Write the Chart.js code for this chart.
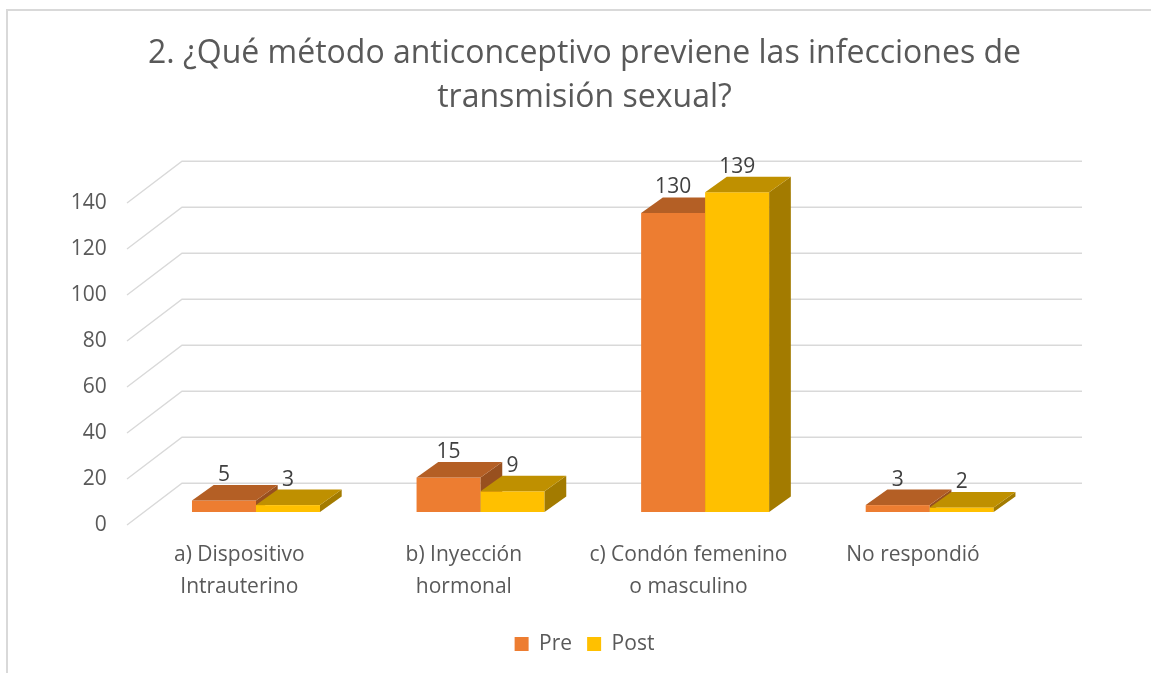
<!DOCTYPE html>
<html>
<head>
<meta charset="utf-8">
<script src="https://cdn.jsdelivr.net/npm/chart.js@4.4.1/dist/chart.umd.min.js"></script>
<style>
  html, body { margin: 0; padding: 0; background: #fff; overflow: hidden; }
  #frame { position: absolute; left: 6px; top: 9px; width: 1200px; height: 800px; border: 2px solid #d9d9d9; }
  #myChart { position: absolute; left: 0; top: 0; }
</style>
</head>
<body>
<div id="frame"></div>
<canvas id="myChart" width="1151" height="673"></canvas>
<script>
// Datos
const categorias = [
    ['a) Dispositivo', 'Intrauterino'],
    ['b) Inyección', 'hormonal'],
    ['c) Condón femenino', 'o masculino'],
    'No respondió'
];
const pre = [5, 15, 130, 3];
const post = [3, 9, 139, 2];
const ticksY = [0, 20, 40, 60, 80, 100, 120, 140];

const gris = '#595959';
const fuente = '"Open Sans", Lato, sans-serif';

// profundidad de las barras 3D
const DX = 21.7, DY = -15.5;

// colores: frente, arriba, lado
const tonos = [
    { front: '#ED7D31', top: '#B45F25', side: '#98501F' },
    { front: '#FFC000', top: '#BF9000', side: '#A37B00' }
];

// cuadrícula en perspectiva + barras 3D dibujadas a mano
const barras3D = {
    id: 'barras3D',
    beforeDatasetsDraw(chart) {
        const ctx = chart.ctx;
        const ca = chart.chartArea;
        const y = chart.scales.y;
        ctx.save();
        ctx.strokeStyle = '#d9d9d9';
        ctx.lineWidth = 1.4;
        ticksY.forEach(v => {
            const py = y.getPixelForValue(v);
            ctx.beginPath();
            ctx.moveTo(ca.left - 16.7, py + 13);
            ctx.lineTo(ca.left + 38.3, py - 28.7);
            ctx.lineTo(ca.right + 40, py - 28.7);
            ctx.stroke();
        });
        ctx.restore();
    },
    // el dibujo normal se cancela, se hace todo abajo en orden
    beforeDatasetDraw() {
        return false;
    },
    afterDatasetsDraw(chart) {
        const ctx = chart.ctx;
        ctx.save();
        chart.data.datasets.forEach((ds, i) => {
            const t = tonos[i];
            chart.getDatasetMeta(i).data.forEach(bar => {
                const l = bar.x - bar.width / 2, r = bar.x + bar.width / 2;
                const top = bar.y, base = bar.base;
                ctx.fillStyle = t.front;
                ctx.fillRect(l, top, r - l, base - top);
                ctx.fillStyle = t.side;
                ctx.beginPath();
                ctx.moveTo(r, top);
                ctx.lineTo(r + DX, top + DY);
                ctx.lineTo(r + DX, base + DY);
                ctx.lineTo(r, base);
                ctx.closePath();
                ctx.fill();
                ctx.fillStyle = t.top;
                ctx.beginPath();
                ctx.moveTo(l, top);
                ctx.lineTo(l + DX, top + DY);
                ctx.lineTo(r + DX, top + DY);
                ctx.lineTo(r, top);
                ctx.closePath();
                ctx.fill();
            });
        });
        // etiquetas de datos
        ctx.fillStyle = '#404040';
        ctx.font = '21px ' + fuente;
        ctx.textAlign = 'center';
        ctx.textBaseline = 'middle';
        chart.data.datasets.forEach((ds, i) => {
            chart.getDatasetMeta(i).data.forEach((bar, j) => {
                ctx.fillText(String(ds.data[j]), bar.x, bar.y + DY - 10);
            });
        });
        ctx.restore();
    }
};

const ctx = document.getElementById('myChart').getContext('2d');
const myChart = new Chart(ctx, {
    type: 'bar',
    data: {
        labels: categorias,
        datasets: [{
            label: 'Pre',
            data: pre,
            backgroundColor: tonos[0].front,
            borderWidth: 0
        }, {
            label: 'Post',
            data: post,
            backgroundColor: tonos[1].front,
            borderWidth: 0
        }]
    },
    options: {
        responsive: false,
        animation: false,
        categoryPercentage: 0.57,
        barPercentage: 1.0,
        layout: { padding: { left: 18, right: 0, top: 12, bottom: 8.5 } },
        plugins: {
            title: {
                display: true,
                text: ['2. ¿Qué método anticonceptivo previene las infecciones de', 'transmisión sexual?'],
                color: gris,
                font: { family: fuente, size: 32, weight: 'normal', lineHeight: 1.36 },
                padding: { top: 20.2, bottom: 70.7 }
            },
            legend: {
                position: 'bottom',
                labels: {
                    boxWidth: 14,
                    boxHeight: 14,
                    padding: 15,
                    color: gris,
                    font: { family: fuente, size: 21 }
                }
            },
            tooltip: { enabled: false }
        },
        scales: {
            x: {
                grid: { display: false, drawTicks: false },
                border: { display: false },
                ticks: {
                    color: gris,
                    font: { family: fuente, size: 21, lineHeight: 1.51 },
                    labelOffset: -16.7,
                    padding: 27,
                    maxRotation: 0,
                    autoSkip: false
                },
                afterFit: s => { s.height = 106.5; }
            },
            y: {
                min: 0,
                max: 140,
                grid: { display: false, drawTicks: false },
                border: { display: false },
                ticks: {
                    stepSize: 20,
                    color: gris,
                    font: { family: fuente, size: 21 },
                    labelOffset: 13.5,
                    padding: 37
                },
                afterFit: s => { s.width = 125.7; }
            },
            y2: {
                position: 'right',
                grid: { display: false, drawTicks: false },
                border: { display: false },
                ticks: { display: false },
                afterFit: s => { s.width = 109; }
            }
        }
    },
    plugins: [barras3D]
});
</script>
</body>
</html>
